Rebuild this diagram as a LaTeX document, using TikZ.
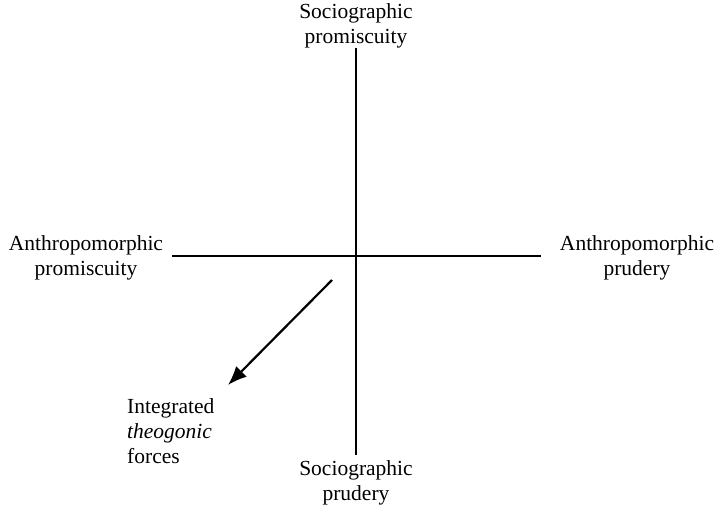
\documentclass[tikz,border=0pt]{standalone}
\usepackage{fontspec}
\setmainfont{Liberation Serif}
\usetikzlibrary{arrows.meta}

\begin{document}
\begin{tikzpicture}[x=1pt,y=-1pt,
            axis/.style={line width=1.1pt},
            lbl/.style={align=center, inner sep=0pt, font=\fontsize{21.5}{25}\selectfont},
            push/.style={line width=2.2pt, -{Latex[length=19pt,width=15pt]}}]
        \useasboundingbox (0,0) rectangle (717,512);

        \coordinate (top) at (356,48);
        \coordinate (bot) at (356,455);
        \coordinate (lft) at (172,256);
        \coordinate (rgt) at (541,256);
        \coordinate (tail) at (332,280);
        \coordinate (head) at (228,385);

        \draw[axis] (top) -- (bot);
        \draw[axis] (lft) -- (rgt);
        \draw[push] (tail) -- (head);

        \node[lbl] (sp) at (356,26) {Sociographic\\promiscuity};
        \node[lbl] (sd) at (356,483) {Sociographic\\prudery};
        \node[lbl] (ap) at (86,258) {Anthropomorphic\\promiscuity};
        \node[lbl] (ad) at (637,258) {Anthropomorphic\\prudery};
        \node[lbl, align=left, anchor=west] (it) at (127,431) {Integrated\\\textit{theogonic}\\forces};
    \end{tikzpicture}
\end{document}
